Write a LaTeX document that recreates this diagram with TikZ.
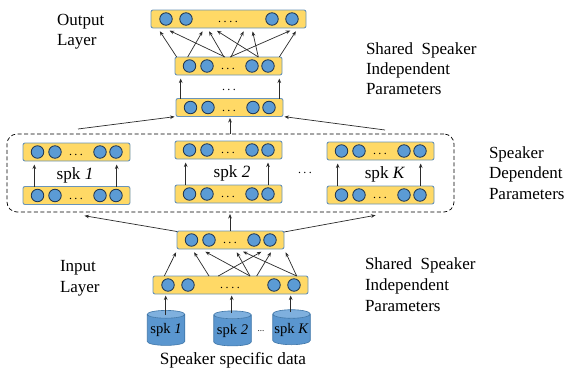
\documentclass[tikz,border=0pt]{standalone}
\usepackage{fontspec}
\setmainfont{Liberation Serif}
\usetikzlibrary{arrows.meta,shapes.geometric}
\definecolor{barfill}{HTML}{FFD966}
\definecolor{barline}{HTML}{6A94B8}
\definecolor{circfill}{HTML}{5B9BD5}
\definecolor{circline}{HTML}{1F3550}
\definecolor{cylbody}{HTML}{5A96CF}
\definecolor{cyltop}{HTML}{7FB0DE}
\definecolor{cylline}{HTML}{3F76A8}
\definecolor{arrowc}{HTML}{2B2B2B}
\tikzset{
  barbox/.style={draw=barline,line width=0.9pt,fill=barfill,rounded corners=2pt,minimum height=18pt,inner sep=0pt,outer sep=0pt},
  unit/.style={circle,draw=circline,line width=0.8pt,fill=circfill,minimum size=12.5pt,inner sep=0pt,outer sep=0pt},
  arr/.style={draw=arrowc,line width=0.7pt,-{Stealth[length=4.5pt,width=3.6pt]},shorten >=1.5pt},
  txt/.style={font=\fontsize{17.2}{20}\selectfont,inner sep=0pt,outer sep=0pt},
  lab/.style={font=\fontsize{17}{20}\selectfont,inner sep=0pt,outer sep=0pt,anchor=base west},
  dotsl/.style={font=\fontsize{12}{14}\selectfont,inner sep=0pt},
  db/.style={cylinder,shape border rotate=90,aspect=0.25,draw=cylline,line width=0.6pt,cylinder uses custom fill,cylinder body fill=cylbody,cylinder end fill=cyltop,minimum width=37.5pt,minimum height=35pt,inner sep=0pt,outer sep=0pt,font=\fontsize{14.6}{16}\selectfont,text=black}
}
\newcommand{\threedots}{.\hspace{2.4pt}.\hspace{2.4pt}.}
% short bar: name, left x, top y
\newcommand{\shortbar}[3]{%
  \node[barbox,minimum width=107pt,anchor=north west] (#1) at (#2,#3) {};
  \node[unit] (#1c1) at ([xshift=14.5pt]#1.west) {};
  \node[unit] (#1c2) at ([xshift=32pt]#1.west) {};
  \node[unit] (#1c3) at ([xshift=77pt]#1.west) {};
  \node[unit] (#1c4) at ([xshift=93pt]#1.west) {};
  \node[dotsl] (#1d) at ([xshift=53pt,yshift=-3pt]#1.west) {\threedots};
}
% wide bar
\newcommand{\widebar}[3]{%
  \node[barbox,minimum width=155pt,anchor=north west] (#1) at (#2,#3) {};
  \node[unit] (#1c1) at ([xshift=15pt]#1.west) {};
  \node[unit] (#1c2) at ([xshift=35pt]#1.west) {};
  \node[unit] (#1c3) at ([xshift=121pt]#1.west) {};
  \node[unit] (#1c4) at ([xshift=141pt]#1.west) {};
  \node[dotsl] (#1d) at ([xshift=77pt,yshift=-3pt]#1.west) {.\hspace{2.6pt}.\hspace{2.6pt}.\hspace{2.6pt}.};
}
% connector upward: from bar, x offset on its top edge; to bar, x offset on its bottom edge
\newcommand{\up}[4]{\draw[arr] ([xshift=#2pt]#1.north west) -- ([xshift=#4pt,yshift=-2pt]#3.south west);}
\begin{document}
\begin{tikzpicture}[x=1pt,y=-1pt]
\useasboundingbox (0,0) rectangle (566,370);
\fill[white] (0,0) rectangle (566,370);
% bars
\widebar{top}{151}{10}
\shortbar{sa}{175}{57}
\shortbar{sb}{176}{98.5}
\shortbar{oa}{23}{143}
\shortbar{ob}{23}{186.5}
\shortbar{ta}{175}{141}
\shortbar{tb}{175}{185}
\shortbar{ka}{327}{142}
\shortbar{kb}{327}{186}
\shortbar{ia}{177}{231}
\widebar{ib}{153}{276}
% dashed group
\node[draw=black,line width=0.7pt,rounded corners=10pt,minimum width=447pt,minimum height=78pt,anchor=north west,inner sep=0pt,outer sep=0pt,dash pattern=on 4pt off 2.5pt] (grp) at (7,134) {};
% cylinders
\node[db] (c1) at (166,330) {spk \textit{1}};
\node[db] (c2) at (232.5,330.5) {spk \textit{2}};
\node[db] (c3) at (291.5,329.5) {spk \textit{K}};
\node[font=\fontsize{9}{10}\selectfont,inner sep=0pt] (cd) at (261,331) {...};
% arrows top
\up{sa}{1.7}{top}{8}
\up{sa}{12.7}{top}{52.3}
\up{sa}{49}{top}{57.3}
\up{sa}{50}{top}{17.3}
\up{sa}{56}{top}{93.3}
\up{sa}{55}{top}{140.7}
\up{sa}{83.3}{top}{64.7}
\up{sa}{83.3}{top}{101.3}
\up{sa}{104.3}{top}{145.7}
% shared
\up{sb}{4.7}{sa}{5.7}
\up{sb}{103.3}{sa}{104.3}
\node[dotsl] (sd) at (229,90) {\threedots};
% from group to sb
\coordinate (gl) at (78,129);
\coordinate (gr) at (385,130);
\draw[arr] (gl) -- (sb.south west);
\draw[arr] (gr) -- (sb.south east);
\draw[arr] (230,134) -- (sb.south -| 230,0);
% spk
\up{ob}{11.3}{oa}{11.3}
\up{ob}{93.7}{oa}{93.7}
\up{tb}{10.7}{ta}{10.7}
\up{tb}{93}{ta}{93}
\up{kb}{10.7}{ka}{10.7}
\up{kb}{93.7}{ka}{93.7}
\node[txt] (s1) at (75,175) {spk \textit{1}};
\node[txt] (s2) at (232,173) {spk \textit{2}};
\node[txt] (s3) at (385,174) {spk \textit{K}};
\node[dotsl] (sm) at (305,173) {\threedots};
% from ia to group
\coordinate (il) at (177,231.5);
\coordinate (ir) at (284,232);
\draw[arr] (il) -- (83,215.5);
\draw[arr] (ir) -- (377,215);
\draw[arr] (ia.north -| 230,0) -- (230,212.5);
% input arrows
\up{ib}{11.3}{ia}{-0.3}
\up{ib}{56}{ia}{16.3}
\up{ib}{97}{ia}{27}
\up{ib}{65.3}{ia}{85.7}
\up{ib}{97}{ia}{59}
\up{ib}{103.7}{ia}{94.7}
\up{ib}{143.7}{ia}{64.7}
\up{ib}{143.7}{ia}{108}
% cylinder arrows
\draw[arr] (165.7,315) -- (165.7,294);
\draw[arr] (231.7,313) -- (231.7,294);
\draw[arr] (290.7,312) -- (290.7,294);
% labels
\node[lab] (l1) at (57,25) {Output};
\node[lab] (l2) at (57,45) {Layer};
\node[lab] (l3) at (366,54) {Shared\ \ Speaker};
\node[lab] (l4) at (366,74) {Independent};
\node[lab] (l5) at (366,94) {Parameters};
\node[lab] (l6) at (489,158) {Speaker};
\node[lab] (l7) at (489,178) {Dependent};
\node[lab] (l8) at (489,199) {Parameters};
\node[lab] (l9) at (60,271) {Input};
\node[lab] (l10) at (60,292) {Layer};
\node[lab] (l11) at (365,269) {Shared\ \ Speaker};
\node[lab] (l12) at (365,290) {Independent};
\node[lab] (l13) at (365,311) {Parameters};
\node[txt] (l14) at (233,360) {Speaker specific data};
\end{tikzpicture}
\end{document}
